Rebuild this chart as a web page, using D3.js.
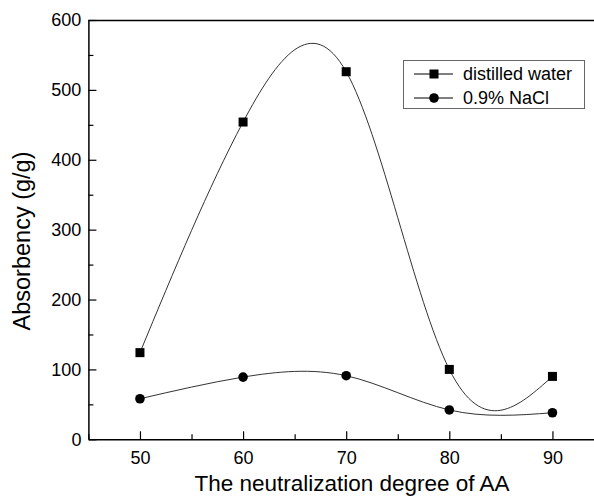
<!DOCTYPE html>
<html>
<head>
<meta charset="utf-8">
<script src="https://d3js.org/d3.v7.min.js"></script>
<style>
  html, body { margin: 0; padding: 0; background: #fff; }
  svg { display: block; }
  text { font-family: "Liberation Sans", Arial, Helvetica, sans-serif; fill: #000; }
</style>
</head>
<body>
<svg id="chart" width="594" height="497"></svg>
<script>
// Neutralization degree of acrylic acid (%)
const degrees = [50, 60, 70, 80, 90];
// Water absorbency (g/g) in distilled water and in 0.9% NaCl solution
const waterAbsorbency = [124, 454, 526, 100, 90];
const salineAbsorbency = [58, 89, 91, 42, 38];
const seriesNames = ["distilled water", "0.9% NaCl"];

const xMajorTicks = [50, 60, 70, 80, 90];
const xMinorTicks = [45, 55, 65, 75, 85, 95];
const yMajorTicks = [0, 100, 200, 300, 400, 500, 600];
const yMinorTicks = [50, 150, 250, 350, 450, 550];

const W = 594, H = 497;
const plot = { left: 88.4, top: 20, right: 604, bottom: 439.3 };

const svg = d3.select("#chart");

const x = d3.scaleLinear().domain([45, 95]).range([plot.left, plot.right]);
const y = d3.scaleLinear().domain([0, 600]).range([plot.bottom, plot.top]);

// Frame: top edge
svg.append("line")
  .attr("x1", plot.left).attr("x2", plot.right)
  .attr("y1", plot.top + 0.5).attr("y2", plot.top + 0.5)
  .attr("stroke", "#000").attr("stroke-width", 1.5);

// Bottom axis (ticks pointing inward)
svg.append("g")
  .attr("transform", `translate(0,${plot.bottom})`)
  .call(d3.axisBottom(x).tickValues(xMajorTicks).tickSizeInner(-8).tickSizeOuter(0).tickPadding(12).tickFormat(d3.format("d")));
svg.append("g")
  .attr("transform", `translate(0,${plot.bottom})`)
  .call(d3.axisBottom(x).tickValues(xMinorTicks).tickSizeInner(-5).tickSizeOuter(0).tickFormat(""))
  .call(g => g.select(".domain").remove());

// Left axis (ticks pointing inward)
svg.append("g")
  .attr("transform", `translate(${plot.left},0)`)
  .call(d3.axisLeft(y).tickValues(yMajorTicks).tickSizeInner(-8).tickSizeOuter(0).tickPadding(7).tickFormat(d3.format("d")));
svg.append("g")
  .attr("transform", `translate(${plot.left},0)`)
  .call(d3.axisLeft(y).tickValues(yMinorTicks).tickSizeInner(-5).tickSizeOuter(0).tickFormat(""))
  .call(g => g.select(".domain").remove());

svg.selectAll(".domain").attr("stroke", "#000").attr("stroke-width", 1.5);
svg.selectAll(".tick line").attr("stroke", "#000").attr("stroke-width", 1.2);
svg.selectAll(".tick text").style("font-size", "18px").attr("fill", "#000");

// Axis titles
svg.append("text")
  .attr("x", 352).attr("y", 491)
  .attr("text-anchor", "middle")
  .style("font-size", "22.5px")
  .text("The neutralization degree of AA");

svg.append("text")
  .attr("transform", `translate(29.5,241) rotate(-90)`)
  .attr("text-anchor", "middle")
  .style("font-size", "23.5px")
  .text("Absorbency (g/g)");

// Smooth curves through the measured points (natural cubic spline)
const line = d3.line()
  .x((d, i) => x(degrees[i]))
  .y(d => y(d))
  .curve(d3.curveNatural);

const series = [waterAbsorbency, salineAbsorbency];
series.forEach(vals => {
  svg.append("path")
    .attr("d", line(vals))
    .attr("fill", "none")
    .attr("stroke", "#333")
    .attr("stroke-width", 1);
});

// Markers
const sq = 9;
svg.append("g").selectAll("rect")
  .data(waterAbsorbency)
  .join("rect")
  .attr("x", (d, i) => x(degrees[i]) - sq / 2)
  .attr("y", d => y(d) - sq / 2)
  .attr("width", sq).attr("height", sq)
  .attr("fill", "#000");

svg.append("g").selectAll("circle")
  .data(salineAbsorbency)
  .join("circle")
  .attr("cx", (d, i) => x(degrees[i]))
  .attr("cy", d => y(d))
  .attr("r", 4.8)
  .attr("fill", "#000");

// Legend
const legend = svg.append("g");
legend.append("rect")
  .attr("x", 403.5).attr("y", 60.5)
  .attr("width", 181).attr("height", 48)
  .attr("fill", "#fff")
  .attr("stroke", "#666").attr("stroke-width", 1);

const rowsY = [74, 98];
seriesNames.forEach((name, i) => {
  const cy = rowsY[i];
  legend.append("line")
    .attr("x1", 414).attr("x2", 453)
    .attr("y1", cy).attr("y2", cy)
    .attr("stroke", "#000").attr("stroke-width", 1);
  if (i === 0) {
    legend.append("rect")
      .attr("x", 434 - 4.5).attr("y", cy - 4.5)
      .attr("width", 9).attr("height", 9)
      .attr("fill", "#000");
  } else {
    legend.append("circle")
      .attr("cx", 434).attr("cy", cy).attr("r", 4.8)
      .attr("fill", "#000");
  }
  legend.append("text")
    .attr("x", 463).attr("y", cy + 6)
    .style("font-size", "18px")
    .text(name);
});
</script>
</body>
</html>
